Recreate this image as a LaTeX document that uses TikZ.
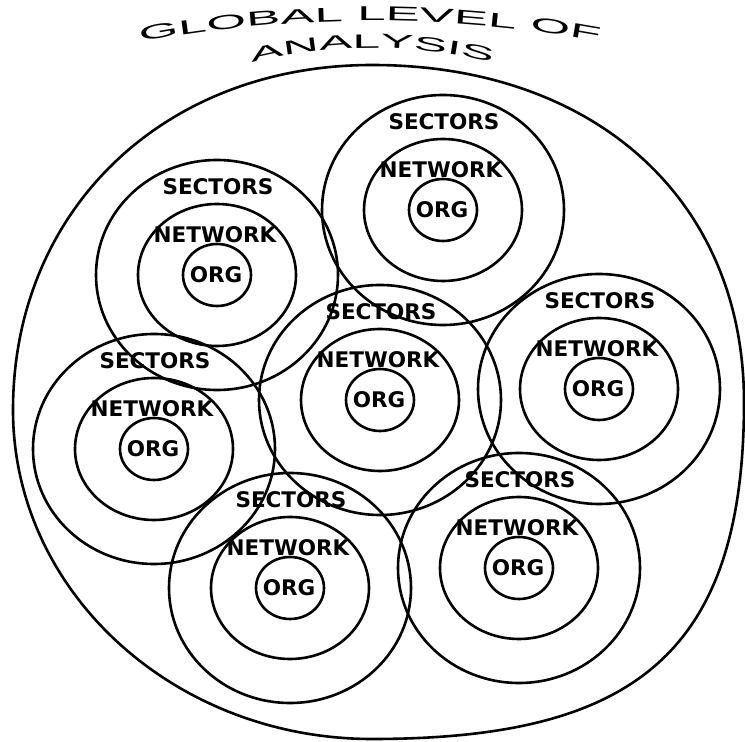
\documentclass[tikz,border=0pt]{standalone}
\usepackage{fontspec}
\newfontfamily\titlefont[FakeStretch=2.55]{Liberation Sans}
\newfontfamily\labelfont{DejaVu Sans}
\usepackage{tikz}
\usetikzlibrary{decorations.text}

\tikzset{
  ring/.style={line width=2.6pt},
  lab/.style={font=\labelfont\bfseries\fontsize{21.5}{24}\selectfont, inner sep=0pt}
}

\begin{document}
\begin{tikzpicture}[x=1pt,y=1pt]
\useasboundingbox (0,0) rectangle (745,742);
% title
\path[decorate, decoration={text along path, text align=center,
  text={|\titlefont\fontsize{20}{24}\selectfont|GLOBAL LEVEL OF}}]
  (370,-549) ++(105:1270) arc[start angle=105, end angle=75, radius=1270];
\path[decorate, decoration={text along path, text align=center,
  text={|\titlefont\fontsize{19.5}{24}\selectfont|ANALYSIS}}]
  (372,194) ++(115:500) arc[start angle=115, end angle=65, radius=500];
% global outline
\draw[ring] (372,677) .. controls (595,677) and (744,542) .. (744,340)
  .. controls (744,87) and (632,3) .. (372,3)
  .. controls (174,3) and (13,150) .. (13,332)
  .. controls (13,532) and (164,677) .. cycle;
% clusters: sectors, network, org
\foreach \n/\x/\y in {a/217/467, b/443/532, c/599/353, d/380/342,
                      e/154/293, f/290/154, g/519/174}{
  \draw[ring] (\x,\y) ellipse [x radius=121, y radius=115];
  \draw[ring] (\x,\y) ellipse [x radius=79, y radius=71];
  \draw[ring] (\x,\y) ellipse [x radius=34, y radius=31];
  \node[lab] (sec-\n) at (\x+1,\y+88) {SECTORS};
  \node[lab] (net-\n) at (\x-2,\y+40) {NETWORK};
  \node[lab] (org-\n) at (\x-1,\y) {ORG};
}
\end{tikzpicture}
\end{document}
